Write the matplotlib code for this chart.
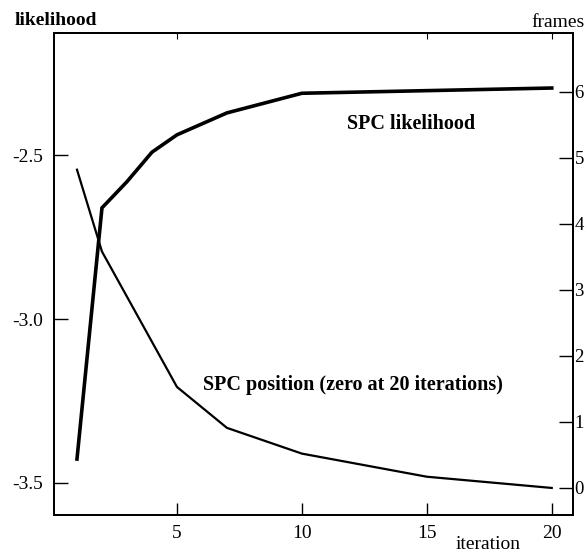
import matplotlib.pyplot as plt

plt.rcParams["font.family"] = ["Liberation Serif", "DejaVu Serif"]

# iteration numbers and read-off values
iters_lik = [1, 2, 3, 4, 5, 7, 10, 20]
likelihood = [-3.427, -2.66, -2.58, -2.49, -2.437, -2.37, -2.31, -2.294]

iters_pos = [1, 2, 5, 7, 10, 15, 20]
position = [4.82, 3.58, 1.53, 0.91, 0.52, 0.17, 0.0]

x_ticks = [5, 10, 15, 20]
lik_ticks = [-2.5, -3.0, -3.5]
frame_ticks = [0, 1, 2, 3, 4, 5, 6]

fig = plt.figure(figsize=(5.85, 5.52), dpi=100)
ax = fig.add_axes([0.0923, 0.067, 0.8872, 0.8732])
ax2 = ax.twinx()

ax.plot(iters_lik, likelihood, color="black", lw=2.6, solid_joinstyle="miter")
ax2.plot(iters_pos, position, color="black", lw=1.6)

ax.set_xlim(0.08, 20.85)
ax.set_ylim(-3.598, -2.126)
ax2.set_ylim(-0.41, 6.89)

ax.set_xticks(x_ticks)
ax.set_xticklabels([str(t) for t in x_ticks])
ax.set_yticks(lik_ticks)
ax.set_yticklabels(["%.1f" % t for t in lik_ticks])
ax2.set_yticks(frame_ticks)
ax2.set_yticklabels([str(t) for t in frame_ticks])

ax.tick_params(axis="x", direction="in", length=9, width=1, labelsize=14, pad=7)
ax.tick_params(axis="y", direction="in", length=10, width=1, labelsize=14, pad=8)
ax2.tick_params(axis="y", direction="in", length=10, width=1, labelsize=13.5, pad=1)

# short ticks along the top
top = ax.secondary_xaxis("top")
top.set_xticks([5, 15, 20])
top.set_xticklabels([])
top.tick_params(direction="in", length=4, width=0.8)

for a in (ax, ax2):
    for s in a.spines.values():
        s.set_linewidth(1.4)
top.spines["top"].set_linewidth(1.4)

ax.text(14.36, -2.403, "SPC likelihood", fontsize=14.5, fontweight="bold",
        ha="center", va="center")
ax.text(6.05, -3.2, "SPC position (zero at 20 iterations)", fontsize=14.5,
        fontweight="bold", ha="left", va="center")

fig.text(0.025, 0.963, "likelihood", fontsize=14, fontweight="bold",
         ha="left", va="center")
fig.text(0.999, 0.96, "frames", fontsize=14, ha="right", va="center")
fig.text(0.835, 0.013, "iteration", fontsize=14, ha="center", va="center")

fig.savefig("out.png", dpi=100)
